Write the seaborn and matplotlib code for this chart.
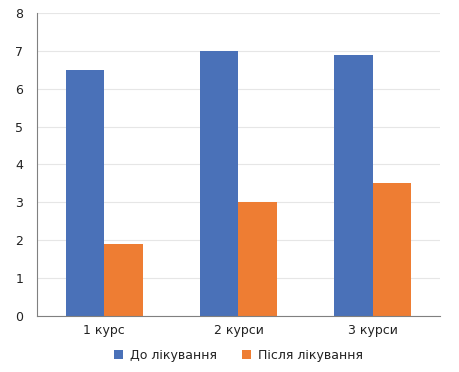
import numpy as np
import pandas as pd
import matplotlib
matplotlib.use("Agg")
import matplotlib.pyplot as plt
import seaborn as sns
from matplotlib.ticker import FixedLocator

categories = ["1 курс", "2 курси", "3 курси"]
series_names = ["До лікування", "Після лікування"]
before = [6.5, 7.0, 6.9]
after = [1.9, 3.0, 3.5]

df = pd.DataFrame({
    "category": categories * 2,
    "series": [series_names[0]] * 3 + [series_names[1]] * 3,
    "value": before + after,
})

sns.set_style("white")
plt.rcParams['font.family'] = ['DejaVu Sans']

fig = plt.figure(figsize=(4.59, 3.72), dpi=100)
ax = fig.add_axes([0.0806, 0.1505, 0.878, 0.815])

sns.barplot(data=df, x="category", y="value", hue="series",
            palette=["#4A71B8", "#EE7D33"], width=0.575, ax=ax,
            saturation=1, linewidth=0)

ax.set_xlim(-0.5, 2.5)
ax.set_ylim(0, 8)
ax.set_yticks(range(0, 9))
ax.yaxis.grid(True, color="#e6e6e6", linewidth=0.8)
ax.set_axisbelow(True)
ax.set_xlabel("")
ax.set_ylabel("")

for side in ["top", "right"]:
    ax.spines[side].set_visible(False)
for side in ["left", "bottom"]:
    ax.spines[side].set_color("#808080")
    ax.spines[side].set_linewidth(0.8)

ax.tick_params(axis="y", length=4, color="#808080", labelsize=9, pad=6,
               labelcolor="#222222")
ax.tick_params(axis="x", length=0, labelsize=9, pad=6, labelcolor="#222222")
ax.xaxis.set_minor_locator(FixedLocator([-0.5, 0.5, 1.5, 2.5]))
ax.tick_params(axis="x", which="minor", length=5, color="#808080")

handles, labels = ax.get_legend_handles_labels()
leg = ax.legend(handles, labels, loc="center", bbox_to_anchor=(0.5, -0.13),
                ncol=2, frameon=False, fontsize=9, handlelength=0.7,
                handleheight=0.7, columnspacing=2.0, handletextpad=0.56)
for t in leg.get_texts():
    t.set_color("#222222")

fig.savefig("out.png", dpi=100)
